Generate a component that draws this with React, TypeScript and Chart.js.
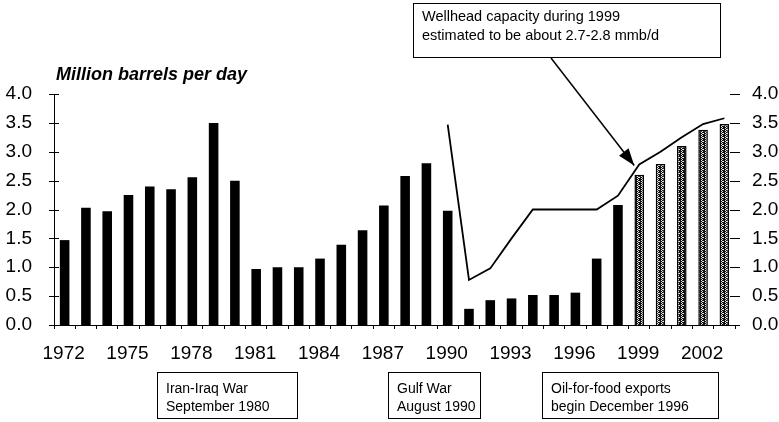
import React, { useEffect, useRef } from 'react';
import { Chart, registerables } from 'chart.js';

Chart.register(...registerables);

const years: string[] = [
  '1972', '1973', '1974', '1975', '1976', '1977', '1978', '1979', '1980', '1981',
  '1982', '1983', '1984', '1985', '1986', '1987', '1988', '1989', '1990', '1991',
  '1992', '1993', '1994', '1995', '1996', '1997', '1998', '1999', '2000', '2001',
  '2002', '2003',
];

const oilExports: number[] = [
  1.47, 2.03, 1.97, 2.25, 2.4, 2.35, 2.56, 3.5, 2.5, 0.97,
  1.0, 1.0, 1.15, 1.39, 1.64, 2.07, 2.58, 2.8, 1.98, 0.28,
  0.43, 0.46, 0.52, 0.52, 0.56, 1.15, 2.08, 2.6, 2.79, 3.1,
  3.38, 3.48,
];

const wellheadCapacity: (number | null)[] = [
  null, null, null, null, null, null, null, null, null, null,
  null, null, null, null, null, null, null, null, 3.47, 0.78,
  0.98, 1.5, 2.0, 2.0, 2.0, 2.0, 2.24, 2.78, 3.0, 3.25,
  3.48, 3.58,
];

const estimatedFrom = 1999;
const yMin = 0;
const yMax = 4;
const yStep = 0.5;

const unitLabel = 'Million barrels per day';
const calloutLines = ['Wellhead capacity during 1999', 'estimated to be about 2.7-2.8 mmb/d'];
const eventNotes: string[][] = [
  ['Iran-Iraq War', 'September 1980'],
  ['Gulf War', 'August 1990'],
  ['Oil-for-food exports', 'begin December 1996'],
];

const FAMILY = '"Liberation Sans", Arial, Helvetica, sans-serif';

function makePattern(): CanvasPattern | string {
  const c = document.createElement('canvas');
  c.width = 4;
  c.height = 4;
  const g = c.getContext('2d');
  if (!g) return '#555';
  g.fillStyle = '#111';
  g.fillRect(0, 0, 4, 4);
  g.fillStyle = '#e8e8e8';
  const pts = [[1, 0], [2, 1], [1, 2], [2, 3], [3, 1]];
  pts.forEach(([px, py]) => g.fillRect(px, py, 1, 1));
  return g.createPattern(c, 'repeat') || '#555';
}

const overlayPlugin = {
  id: 'overlay',
  afterDraw(chart: any) {
    const ctx: CanvasRenderingContext2D = chart.ctx;
    const ys = chart.scales.y;
    const ys2 = chart.scales.y2;
    ctx.save();
    ctx.strokeStyle = '#000';
    ctx.fillStyle = '#000';
    ctx.lineWidth = 1;
    ys.ticks.forEach((t: any) => {
      const py = Math.round(ys.getPixelForValue(t.value)) + 0.5;
      ctx.beginPath();
      ctx.moveTo(ys.right - 5, py);
      ctx.lineTo(ys.right + 5, py);
      ctx.stroke();
    });
    ys2.ticks.forEach((t: any) => {
      const py = Math.round(ys2.getPixelForValue(t.value)) + 0.5;
      ctx.beginPath();
      ctx.moveTo(ys2.left - 5, py);
      ctx.lineTo(ys2.left + 5, py);
      ctx.stroke();
    });

    ctx.font = `italic bold 18px ${FAMILY}`;
    ctx.textBaseline = 'middle';
    ctx.textAlign = 'left';
    ctx.fillText(unitLabel, 56, 75);

    ctx.font = `14.5px ${FAMILY}`;
    ctx.strokeRect(413.5, 3.5, 307, 54);
    ctx.fillText(calloutLines[0], 422, 17);
    ctx.fillText(calloutLines[1], 422, 36);

    const xs = chart.scales.x;
    const idx = years.indexOf(String(estimatedFrom));
    const tipX = xs.getPixelForValue(idx) - 5;
    const tipY = ys2.getPixelForValue(wellheadCapacity[idx] as number) + 1;
    const sx = 551;
    const sy = 58;
    ctx.lineWidth = 1.5;
    ctx.beginPath();
    ctx.moveTo(sx, sy);
    ctx.lineTo(tipX, tipY);
    ctx.stroke();
    const ang = Math.atan2(tipY - sy, tipX - sx);
    const L = 17;
    const W = 6;
    ctx.beginPath();
    ctx.moveTo(tipX, tipY);
    ctx.lineTo(tipX - L * Math.cos(ang) + W * Math.sin(ang), tipY - L * Math.sin(ang) - W * Math.cos(ang));
    ctx.lineTo(tipX - L * Math.cos(ang) - W * Math.sin(ang), tipY - L * Math.sin(ang) + W * Math.cos(ang));
    ctx.closePath();
    ctx.fill();

    ctx.lineWidth = 1;
    const boxes = [
      { x: 157, w: 140 },
      { x: 388, w: 92 },
      { x: 542, w: 176 },
    ];
    ctx.font = `14px ${FAMILY}`;
    eventNotes.forEach((lines, i) => {
      const b = boxes[i];
      ctx.strokeRect(b.x + 0.5, 372.5, b.w, 46);
      ctx.fillText(lines[0], b.x + 9, 389);
      ctx.fillText(lines[1], b.x + 9, 407.5);
    });
    ctx.restore();
  },
};

export default function App() {
  const ref = useRef<HTMLCanvasElement | null>(null);

  useEffect(() => {
    if (!ref.current) return;
    const pattern = makePattern();
    const barFills = years.map((y) => (Number(y) >= estimatedFrom ? pattern : '#000'));
    const barBorders = years.map((y) => (Number(y) >= estimatedFrom ? 1.5 : 0));
    const tickFont = { family: FAMILY, size: 19 };

    const chart = new Chart(ref.current, {
      type: 'bar',
      data: {
        labels: years,
        datasets: [
          {
            type: 'line',
            label: 'Wellhead capacity',
            data: wellheadCapacity,
            yAxisID: 'y2',
            borderColor: '#000',
            borderWidth: 1.8,
            pointRadius: 0,
            tension: 0,
            spanGaps: false,
            order: 0,
          } as any,
          {
            type: 'bar',
            label: 'Exports',
            data: oilExports,
            yAxisID: 'y',
            backgroundColor: barFills as any,
            borderColor: '#000',
            borderWidth: barBorders,
            barPercentage: 0.45,
            categoryPercentage: 1,
            order: 1,
          } as any,
        ],
      },
      options: {
        responsive: false,
        animation: false,
        devicePixelRatio: 1,
        layout: { padding: { top: 94, left: 0, right: 0, bottom: 0 } },
        plugins: {
          legend: { display: false },
          tooltip: { enabled: false },
          title: { display: false },
        },
        scales: {
          x: {
            type: 'category',
            offset: true,
            grid: {
              display: true,
              drawOnChartArea: false,
              offset: true,
              tickLength: 4,
              color: '#000',
            },
            border: { display: true, color: '#000', width: 1 },
            ticks: {
              autoSkip: false,
              maxRotation: 0,
              minRotation: 0,
              padding: 13,
              labelOffset: -1,
              color: '#000',
              font: tickFont,
              callback: (_v: any, i: number) => (i % 3 === 0 ? years[i] : ''),
            },
            afterFit: (s: any) => {
              s.height = 97;
            },
          },
          y: {
            type: 'linear',
            position: 'left',
            min: yMin,
            max: yMax,
            grid: { display: false },
            border: { display: true, color: '#000', width: 1 },
            ticks: {
              stepSize: yStep,
              padding: 14,
              color: '#000',
              font: tickFont,
              callback: (v: any) => Number(v).toFixed(1),
            },
            afterFit: (s: any) => {
              s.width = 54;
            },
          },
          y2: {
            type: 'linear',
            position: 'right',
            min: yMin,
            max: yMax,
            grid: { display: false },
            border: { display: false },
            ticks: {
              stepSize: yStep,
              padding: 9,
              color: '#000',
              font: tickFont,
              callback: (v: any) => Number(v).toFixed(1),
            },
            afterFit: (s: any) => {
              s.width = 44;
            },
          },
        },
      },
      plugins: [overlayPlugin],
    });
    return () => chart.destroy();
  }, []);

  return (
    <div style={{ position: 'absolute', left: 0, top: 0, width: 779, height: 422, background: '#fff' }}>
      <canvas ref={ref} width={779} height={422} style={{ width: 779, height: 422, display: 'block' }} />
    </div>
  );
}
